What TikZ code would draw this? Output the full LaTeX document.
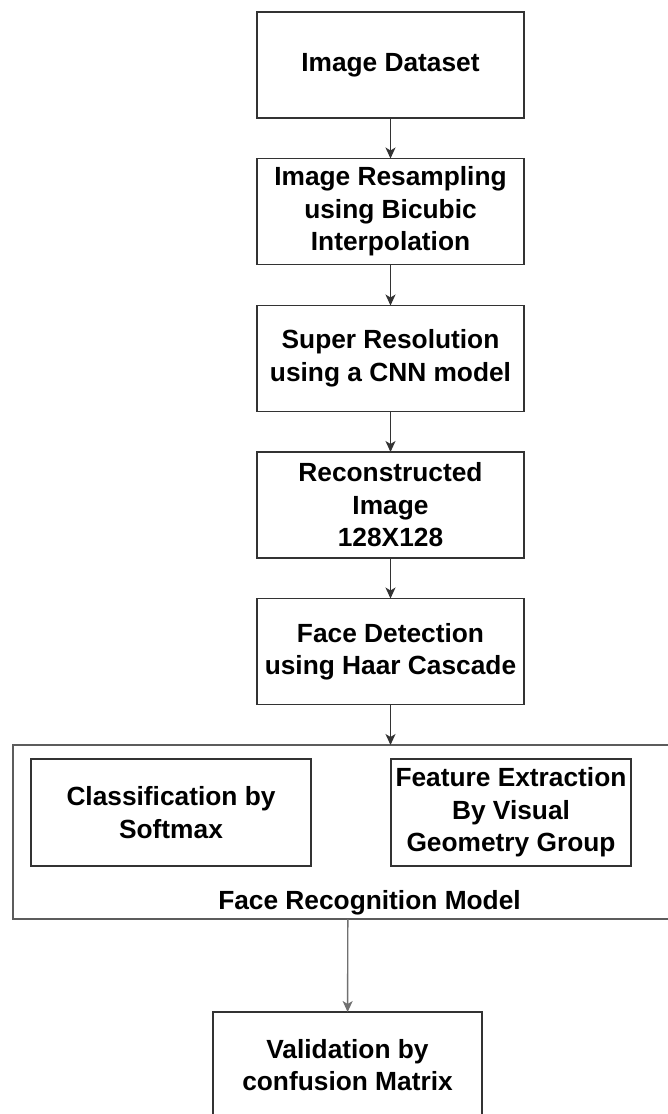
\documentclass[tikz,border=0pt]{standalone}
\usepackage{fontspec}
\setmainfont{Liberation Sans}
\usetikzlibrary{arrows.meta}
\definecolor{strokec}{HTML}{333333}
\definecolor{lightarrow}{HTML}{707070}
\tikzset{
  stepbox/.style={draw=strokec, line width=1.4pt, rectangle, inner sep=0pt, outer sep=0pt,
    align=center, minimum width=267pt, minimum height=106pt,
    font=\fontsize{26.3}{32.5}\selectfont\bfseries},
  innerbox/.style={stepbox, minimum height=107pt},
  contbox/.style={draw=strokec!80, line width=1.4pt, rectangle, inner sep=0pt, outer sep=0pt},
  lbl/.style={inner sep=0pt, font=\fontsize{26.3}{32.5}\selectfont\bfseries},
  arr/.style={draw=strokec, line width=1.4pt, -{Stealth[length=11pt,width=10pt,inset=3pt]}},
  arrlight/.style={arr, draw=lightarrow}
}
\begin{document}
\begin{tikzpicture}[x=1pt,y=-1pt]
\useasboundingbox (0,0) rectangle (668,1114);
\clip (0,0) rectangle (668,1114);
\fill[white] (0,0) rectangle (668,1114);

\node[stepbox] (b1) at (390.5,65) {Image Dataset};
\node[stepbox] (b2) at (390.5,211.5) {Image Resampling\\using Bicubic\\Interpolation};
\node[stepbox] (b3) at (390.5,358.5) {Super Resolution\\using a CNN model};
\node[stepbox] (b4) at (390.5,505) {Reconstructed\\Image\\128X128};
\node[stepbox] (b5) at (390.5,651.5) {Face Detection\\using Haar Cascade};

\node[contbox, minimum width=670pt, minimum height=174pt] (cont) at (348,832) {};
\node[innerbox, minimum width=280pt] (cls) at (171,812.5) {Classification by\\Softmax};
\node[innerbox, minimum width=240pt] (feat) at (511,812.5) {Feature Extraction\\By Visual\\Geometry Group};
\node[lbl, anchor=base] (contlbl) at (369.5,909) {Face Recognition Model};

\node[stepbox, minimum width=269pt, minimum height=106pt] (val) at (347.5,1065) {Validation by\\confusion Matrix};

\draw[arr] (b1) -- (b2);
\draw[arr] (b2) -- (b3);
\draw[arr] (b3) -- (b4);
\draw[arr] (b4) -- (b5);
\draw[arr] (b5) -- (b5 |- cont.north);
\draw[arrlight] (cont) -- (val);
\end{tikzpicture}
\end{document}
